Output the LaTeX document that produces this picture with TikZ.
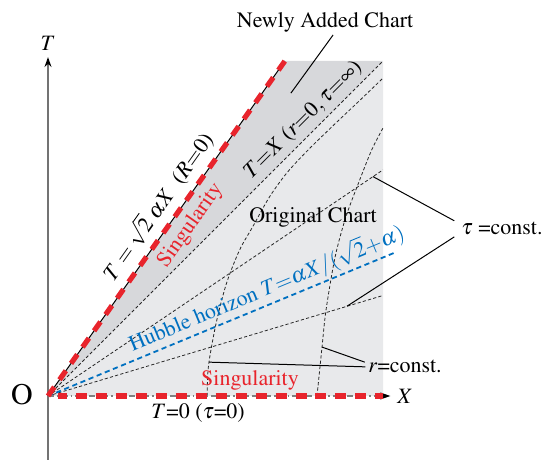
\documentclass[tikz,border=0pt]{standalone}
\usepackage[T1]{fontenc}
\usepackage{mathptmx}
\usetikzlibrary{arrows.meta,positioning,calc}
\definecolor{singred}{RGB}{232,36,44}
\definecolor{hubbleblue}{RGB}{0,112,192}
\definecolor{newchart}{RGB}{215,216,219}
\definecolor{origchart}{RGB}{232,233,235}

\begin{document}
\begin{tikzpicture}[
  x=5.9cm, y=5.9cm,
  font=\fontsize{11}{13}\selectfont,
  fanline/.style={line width=0.4pt, dash pattern=on 1.6pt off 1.1pt, black!85},
  singline/.style={singred, line width=2.6pt, dash pattern=on 5.5pt off 4.5pt},
  hubline/.style={hubbleblue, line width=0.9pt, dash pattern=on 2.6pt off 1.8pt},
  leader/.style={line width=0.5pt}
]
\useasboundingbox (-0.1433,-0.191) rectangle (1.5045,1.1821);

% 点
\coordinate (O) at (0,0);
\coordinate (S) at (0.7071,1);
\coordinate (A) at (1,1);
\coordinate (B) at (1,0);
\coordinate (Tbot) at (0,-0.191);

% 領域
\fill[newchart] (O) -- (S) -- (A) -- cycle;
\fill[origchart] (O) -- (A) -- (B) -- cycle;

% 原点からの直線
\draw[fanline] (O) -- (A);
\draw[fanline] (O) -- (1,0.675) coordinate (tau1);
\draw[fanline] (O) -- (1,0.30) coordinate (tau2);
\draw[hubline] (O) -- (1.04,0.43) coordinate (hub);

% r=const.
\draw[fanline] plot[smooth] coordinates {(0.475,0) (0.479,0.09) (0.502,0.218)
  (0.533,0.337) (0.572,0.436) (0.611,0.505) (0.661,0.594) (0.713,0.666)
  (0.776,0.734) (0.852,0.808) (0.925,0.877) (1,0.949)};
\draw[fanline] plot[smooth] coordinates {(0.803,0) (0.818,0.146) (0.830,0.257)
  (0.857,0.415) (0.889,0.534) (0.927,0.636) (0.966,0.734) (1,0.80)};

% 軸
\node (Tlab) at (0,1.054) {$T$};
\node (Xlab) at (1.066,0) {$X$};
\node[font=\fontsize{15}{18}\selectfont] (Olab) at (-0.078,0.003) {O};
\draw[black!55, line width=0.7pt, -{Stealth[black,length=5pt,width=3.5pt]}] (Tbot) -- (Tlab);
\draw[black!50, line width=0.6pt, dash pattern=on 3pt off 1.5pt on 0.8pt off 1.5pt,
  -{Stealth[black,length=5pt,width=3.5pt]}] (O) -- (Xlab);

% 特異点
\draw[line width=0.5pt] (O) -- (S);
\draw[singline] (O) -- (S);
\draw[singline, dash phase=1pt] (0.03,0) -- (B);

% ラベル
\node[rotate=54.7] (slab) at (0.326,0.566) {$T=\sqrt{2}\;\alpha X$\enspace($R{=}0$)};
\node[rotate=54.7, text=singred] (sing1) at (0.426,0.508) {Singularity};
\node[rotate=45] (rzero) at (0.762,0.824) {$T{=}X$ ($r{=}0,\tau{=}\infty$)};
\node (orig) at (0.791,0.534) {Original Chart};
\node[rotate=22.5, text=hubbleblue] (hlab) at (0.652,0.322) {Hubble horizon $T{=}\alpha X/(\sqrt{2}{+}\alpha)$};
\node[text=singred] (sing2) at (0.603,0.045) {Singularity};
\node (tzero) at (0.448,-0.051) {$T$=0 ($\tau$=0)};

% 引き出し線
\node (nac) at (0.827,1.116) {Newly Added Chart};
\coordinate (nadd) at (0.725,0.904);
\draw[leader] ($(nac.south)+(0.024,0.012)$) -- (nadd);

\node (tauc) at (1.355,0.501) {$\tau$ =const.};
\coordinate (tc1) at (0.970,0.655);
\coordinate (tc2) at (0.8925,0.268);
\draw[leader] ($(tauc.west)+(0,0.022)$) -- (tc1);
\draw[leader] ($(tauc.west)+(0,-0.026)$) -- (tc2);

\node (rc) at (1.066,0.087) {$r$=const.};
\coordinate (rc1) at (0.481,0.101);
\coordinate (rc2) at (0.818,0.146);
\draw[leader] ($(rc.west)+(0.012,0)$) -- (rc1);
\draw[leader] ($(rc.west)+(0.010,0.014)$) -- (rc2);

\end{tikzpicture}
\end{document}
